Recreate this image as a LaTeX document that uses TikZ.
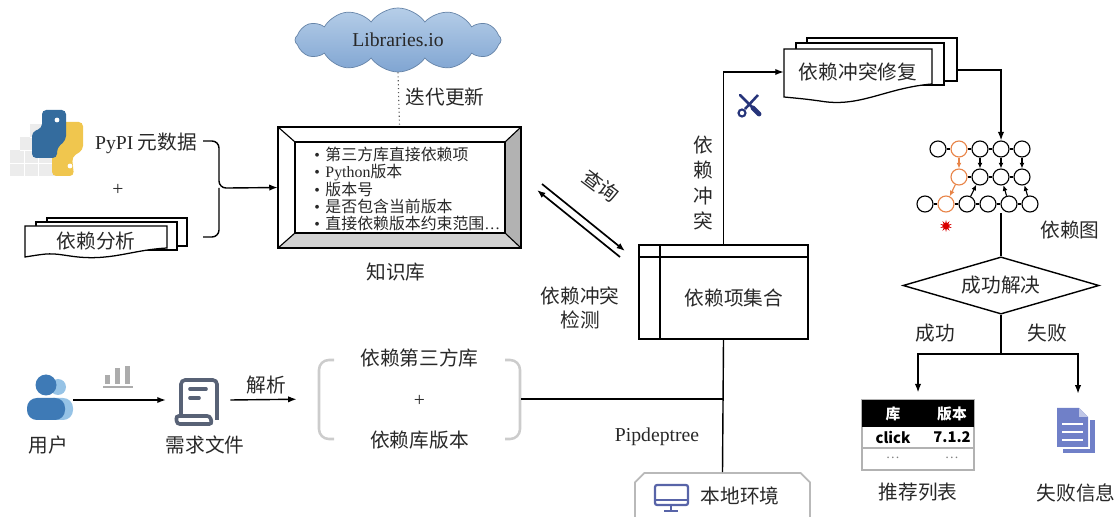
\documentclass[tikz,border=0pt]{standalone}
\usepackage{fontspec}
\setmainfont{Noto Sans CJK SC}
\newfontfamily\lat{Liberation Serif}
\usepackage{xcolor}
\usepackage{tikz}
\usetikzlibrary{shapes.geometric, shapes.symbols, shapes.misc, arrows.meta, positioning}

\definecolor{pyblue}{RGB}{52,108,158}
\definecolor{pyyellow}{RGB}{240,198,78}
\definecolor{userblue}{RGB}{62,122,182}
\definecolor{userlight}{RGB}{150,195,230}
\definecolor{slate}{RGB}{88,98,118}
\definecolor{toolnavy}{RGB}{38,52,122}
\definecolor{docblue}{RGB}{112,128,200}
\definecolor{monblue}{RGB}{88,100,168}
\definecolor{graphorange}{RGB}{232,132,72}
\definecolor{cloudtop}{RGB}{182,206,232}
\definecolor{cloudbot}{RGB}{128,165,210}
\definecolor{txt}{RGB}{40,40,40}

\newcommand{\kbitem}{{\lat\textbullet}\hspace{4pt}}

\tikzset{
  lbl/.style={font=\fontsize{14}{17}\selectfont, text=txt, inner sep=1pt},
  wire/.style={line width=1pt},
  conn/.style={line width=1pt, -{Latex[length=6pt,width=4.5pt]}},
  gnode/.style={circle, draw, line width=0.8pt, minimum size=0.4cm, inner sep=0pt},
  gorange/.style={gnode, draw=graphorange},
  garrow/.style={line width=0.8pt, -{Latex[length=4pt,width=3.5pt]}},
}

\begin{document}
\begin{tikzpicture}[x=0.025cm, y=-0.025cm]
  \useasboundingbox (0,0) rectangle (1118,517);
  \clip (0,0) rectangle (1118,517);

  \fill[gray!15] (10,150) rectangle (56,176);
  \fill[gray!15] (20,137) rectangle (56,150);
  \fill[gray!15] (30,124) rectangle (56,137);
  \draw[white, line width=0.7pt] (10,163) -- (56,163) (20,150) -- (56,150) (30,137) -- (56,137)
        (24,150) -- (24,176) (38,137) -- (38,176);
  \fill[pyyellow, rounded corners=3pt] (56,122) -- (83,122) -- (83,150) -- (72,157) -- (74,176) -- (52,176) -- (52,140) -- cycle;
  \fill[pyblue, rounded corners=3pt] (42,110) -- (66,110) -- (66,140) -- (57,148) -- (57,158) -- (32,158) -- (32,132) -- (42,128) -- cycle;
  \fill[white] (57,120) circle (2.4);
  \fill[white] (70,166) circle (2.4);
  \node[lbl] (pypi) at (146,143) {{\lat PyPI} 元数据};
  \node[lbl] (plus1) at (118,190) {\lat +};

  \draw[line width=0.9pt, fill=white] (47,218) rectangle (187,246);
  \draw[line width=0.9pt, fill=white] (36,222) rectangle (177,250);
  \draw[line width=0.9pt, fill=white] (25,226) -- (167,226) -- (167,248)
      .. controls (130,250) and (110,262) .. (70,256) .. controls (50,253) .. (25,257) -- cycle;
  \node[lbl] (deps) at (96,241) {依赖分析};

  \node[minimum width=6.075cm, minimum height=3.025cm, inner sep=0pt] (kb) at (399.5,187.5) {};
  \fill[white] (278,127) rectangle (521,248);
  \fill[gray!60] (521,127) -- (505,142) -- (505,233) -- (521,248) -- cycle;
  \fill[gray!35] (278,248) -- (295,233) -- (505,233) -- (521,248) -- cycle;
  \draw[line width=1.2pt] (278,127) rectangle (521,248);
  \draw[line width=1pt] (295,142) rectangle (505,233);
  \draw[line width=0.8pt] (278,127) -- (295,142) (521,127) -- (505,142)
        (278,248) -- (295,233) (521,248) -- (505,233);
  \node[anchor=west, align=left, font=\fontsize{11.3}{12.3}\selectfont, text=txt, inner sep=0pt] (kbtext) at (314,189)
    {\kbitem 第三方库直接依赖项\\\kbitem {\lat Python}版本\\\kbitem 版本号\\\kbitem 是否包含当前版本\\\kbitem 直接依赖版本约束范围{\lat …}};
  \node[lbl] (kblabel) at (396,272) {知识库};

  \draw[wire, rounded corners=5pt] (203,141) -- (219,141) -- (219,188) -- (229,188);
  \draw[wire, rounded corners=5pt] (203,237) -- (219,237) -- (219,188);
  \coordinate (bt) at (229,188);
  \draw[conn] (bt) -- (kb.west);

  \node[cloud, cloud puffs=12, cloud puff arc=110, aspect=3.3, minimum width=5.15cm, minimum height=1.6cm,
        top color=cloudtop, bottom color=cloudbot, draw=cloudbot!80!black, line width=0.5pt, inner sep=0pt,
        font=\fontsize{14}{17}\selectfont\lat, text=txt] (lib) at (398,40) {Libraries.io};
  \draw[dotted, line width=0.8pt, gray!70!black] (lib.south) -- (kb.north);
  \node[lbl] (iter) at (445,97) {迭代更新};

  \coordinate (qa) at (542,184);
  \coordinate (qb) at (625,251);
  \coordinate (qc) at (537,190);
  \coordinate (qd) at (620,257);
  \draw[conn, line width=1.2pt] (qa) -- (qb);
  \draw[conn, line width=1.2pt] (qd) -- (qc);
  \node[lbl, rotate=-37, inner sep=0pt] (query) at (601,186) {查询};

  \node[draw, line width=1.1pt, minimum width=4.225cm, minimum height=2.35cm] (depset) at (723.5,292) {};
  \draw[line width=1pt] (639,257) -- (808,257) (660,245) -- (660,339);
  \node[lbl] (depsettext) at (734,298) {依赖项集合};
  \node[lbl, align=center, font=\fontsize{14}{16.5}\selectfont] (detect) at (580,308) {依赖冲突\\检测};

  \draw[line width=0.9pt, fill=white] (807,38) rectangle (957,81);
  \draw[line width=0.9pt, fill=white] (796,43) rectangle (944,85);
  \draw[line width=0.9pt, fill=white] (784,49) -- (932,49) -- (932,84)
      .. controls (885,88) and (860,108) .. (820,101) .. controls (805,99) .. (784,97) -- cycle;
  \node[lbl, minimum width=3.7cm, minimum height=1.05cm] (fix) at (858,72) {依赖冲突修复};
  \draw[conn] (depset.north) |- (fix.west);
  \node[lbl, align=center, font=\fontsize{14}{17.8}\selectfont] (conflict) at (703,183) {依\\赖\\冲\\突};

  \draw[toolnavy, line width=1.8pt, line cap=round] (740,95) -- (752,107);
  \draw[toolnavy, line width=3.5pt, line cap=round] (753,108) -- (759,114);
  \draw[toolnavy, line width=1.8pt] (758,95) -- (745,109);
  \draw[toolnavy, line width=1.5pt] (742,113) circle (3.5);

  \node[gnode] (g11) at (938,149) {};
  \node[gorange] (g12) at (959,149) {};
  \node[gnode] (g13) at (980,149) {};
  \node[gnode] (g14) at (1001,149) {};
  \node[gnode] (g15) at (1022,149) {};
  \node[gorange] (g22) at (959,177) {};
  \node[gnode] (g23) at (980,177) {};
  \node[gnode] (g24) at (1001,177) {};
  \node[gnode] (g25) at (1022,177) {};
  \node[gnode] (g31) at (925,204) {};
  \node[gorange] (g32) at (946,204) {};
  \node[gnode] (g33) at (967,204) {};
  \node[gnode] (g34) at (988,204) {};
  \node[gnode] (g35) at (1009,204) {};
  \node[gnode] (g36) at (1030,204) {};
  \draw[line width=0.8pt] (g11) -- (g12) -- (g13) -- (g14) -- (g15);
  \draw[line width=0.8pt] (g22) -- (g23) -- (g24) -- (g25);
  \draw[line width=0.8pt] (g31) -- (g32) -- (g33) -- (g34) -- (g35) -- (g36);
  \draw[garrow, graphorange] (g12) -- (g22);
  \draw[garrow, graphorange] (g22) -- (g32);
  \draw[garrow] (g13) -- (g23);
  \draw[garrow] (g14) -- (g24);
  \draw[garrow] (g15) -- (g25);
  \draw[garrow] (g33) -- (g23);
  \draw[garrow] (g35) -- (g24);
  \draw[garrow] (g36) -- (g25);
  \node[star, star points=10, star point ratio=2.2, fill=red!85!black, minimum size=0.3cm, inner sep=0pt] (bug) at (946,226) {};
  \node[lbl] (dglabel) at (1070,230) {依赖图};

  \coordinate (fixout) at (957,70);
  \draw[conn] (fixout) -| (g14.north);

  \node[diamond, draw, line width=1pt, aspect=3.4, minimum width=4.9cm, minimum height=1.43cm,
        font=\fontsize{14}{17}\selectfont, text=txt, inner sep=0pt] (solve) at (1001,285.5) {成功解决};
  \coordinate (gb) at (1001,213);
  \draw[wire] (gb) -- (solve.north);
  \draw[wire] (solve.south) -- (1001,354) coordinate (br);
  \node[lbl] (ok) at (935,333) {成功};
  \node[lbl] (fail) at (1047,333) {失败};

  \node[draw=gray!60, line width=0.8pt, minimum width=2.8cm, minimum height=1.75cm, inner sep=0pt] (tab) at (918,435) {};
  \fill[black] (862,400) rectangle (974,427);
  \draw[gray!60, line width=0.8pt] (862,448) -- (974,448);
  \node[font=\fontsize{10.5}{12}\selectfont\bfseries, text=white] at (893,413.5) {库};
  \node[font=\fontsize{10.5}{12}\selectfont\bfseries, text=white] at (952,413.5) {版本};
  \node[font=\fontsize{10.5}{12}\selectfont\bfseries] at (893,437.5) {click};
  \node[font=\fontsize{10.5}{12}\selectfont\bfseries] at (952,437.5) {7.1.2};
  \node[font=\fontsize{10}{12}\selectfont\lat, text=gray] at (893,458) {…};
  \node[font=\fontsize{10}{12}\selectfont\lat, text=gray] at (952,458) {…};
  \draw[conn, shorten >=5pt] (br) -| (tab.north);
  \node[lbl] (rec) at (918,492) {推荐列表};

  \node[minimum width=0.95cm, minimum height=1.125cm, inner sep=0pt] (finfo) at (1078,430.5) {};
  \fill[docblue] (1090,420) rectangle (1095,453);
  \fill[docblue] (1063,449) rectangle (1095,453);
  \fill[docblue] (1057,408) -- (1079,408) -- (1088,417) -- (1088,447) -- (1057,447) -- cycle;
  \fill[docblue!45] (1079,408) -- (1079,417) -- (1088,417) -- cycle;
  \draw[white, line width=1.4pt] (1062,424) -- (1083,424) (1062,432) -- (1083,432) (1062,440) -- (1083,440);
  \draw[conn, shorten >=10pt] (br) -| (finfo.north);
  \node[lbl] (finfolabel) at (1076,493) {失败信息};

  \node[minimum width=1.15cm, minimum height=1cm, inner sep=0pt] (user) at (50,400) {};
  \fill[userlight] (58,387) circle (8);
  \fill[userlight, rounded corners=7pt] (43,420) -- (43,398) -- (73,398) -- (73,420) -- cycle;
  \fill[userblue] (46,385) circle (10.5);
  \fill[userblue, rounded corners=7pt] (27,420) -- (27,398) -- (65,398) -- (65,420) -- cycle;
  \node[lbl] (userlabel) at (48,445) {用户};

  \fill[gray!65] (105,375) rectangle (110,384);
  \fill[gray!65] (115,368) rectangle (120,384);
  \fill[gray!65] (125,366) rectangle (130,384);
  \draw[gray!65, line width=1.2pt] (103,387) -- (133,387);

  \node[minimum width=1.6cm, minimum height=1.25cm, inner sep=0pt] (req) at (198,400) {};
  \draw[slate, line width=2.6pt, rounded corners=3pt] (181,416) -- (181,380) -- (217,380) -- (217,420);
  \draw[slate, line width=2.6pt, rounded corners=2pt] (176,416) -- (210,416) -- (212,424) -- (177,424) -- cycle;
  \draw[slate, line width=2.6pt, line cap=round] (190,389) -- (206,389) (190,398) -- (199,398);
  \node[lbl] (reqlabel) at (205,445) {需求文件};
  \draw[conn] (user.east) -- (req.west);

  \node[lbl, align=center, font=\fontsize{14}{29.5}\selectfont, minimum width=5.075cm] (reqset) at (419.5,399)
    {依赖第三方库\\{\lat +}\\依赖库版本};
  \draw[gray!40, line width=1.8pt, rounded corners=7pt] (334,360) -- (319,360) -- (319,439) -- (334,439);
  \draw[gray!40, line width=1.8pt, rounded corners=7pt] (505,360) -- (520,360) -- (520,439) -- (505,439);
  \draw[conn, shorten >=15pt] (req.east) -- (reqset.west);
  \node[lbl] (parse) at (266,385) {解析};

  \node[chamfered rectangle, chamfered rectangle corners={north west, north east}, chamfered rectangle xsep=4pt,
        draw=gray!55, line width=1.2pt, minimum width=4.375cm, minimum height=1.35cm] (local) at (722.5,500) {};
  \draw[monblue, line width=1.6pt, rounded corners=1.5pt] (655,485) rectangle (688,505);
  \draw[monblue, line width=1.2pt] (655,500) -- (688,500);
  \draw[monblue, line width=1.6pt] (671,505) -- (671,510) (664,511) -- (678,511);
  \node[lbl] (localtext) at (740,496) {本地环境};
  \node[lbl, font=\fontsize{14}{17}\selectfont\lat] (pip) at (657,437) {Pipdeptree};

  \draw[wire] (depset.south) -- (local.north);
  \draw[wire] (reqset.east) -- (reqset.east -| depset.south);

\end{tikzpicture}
\end{document}
